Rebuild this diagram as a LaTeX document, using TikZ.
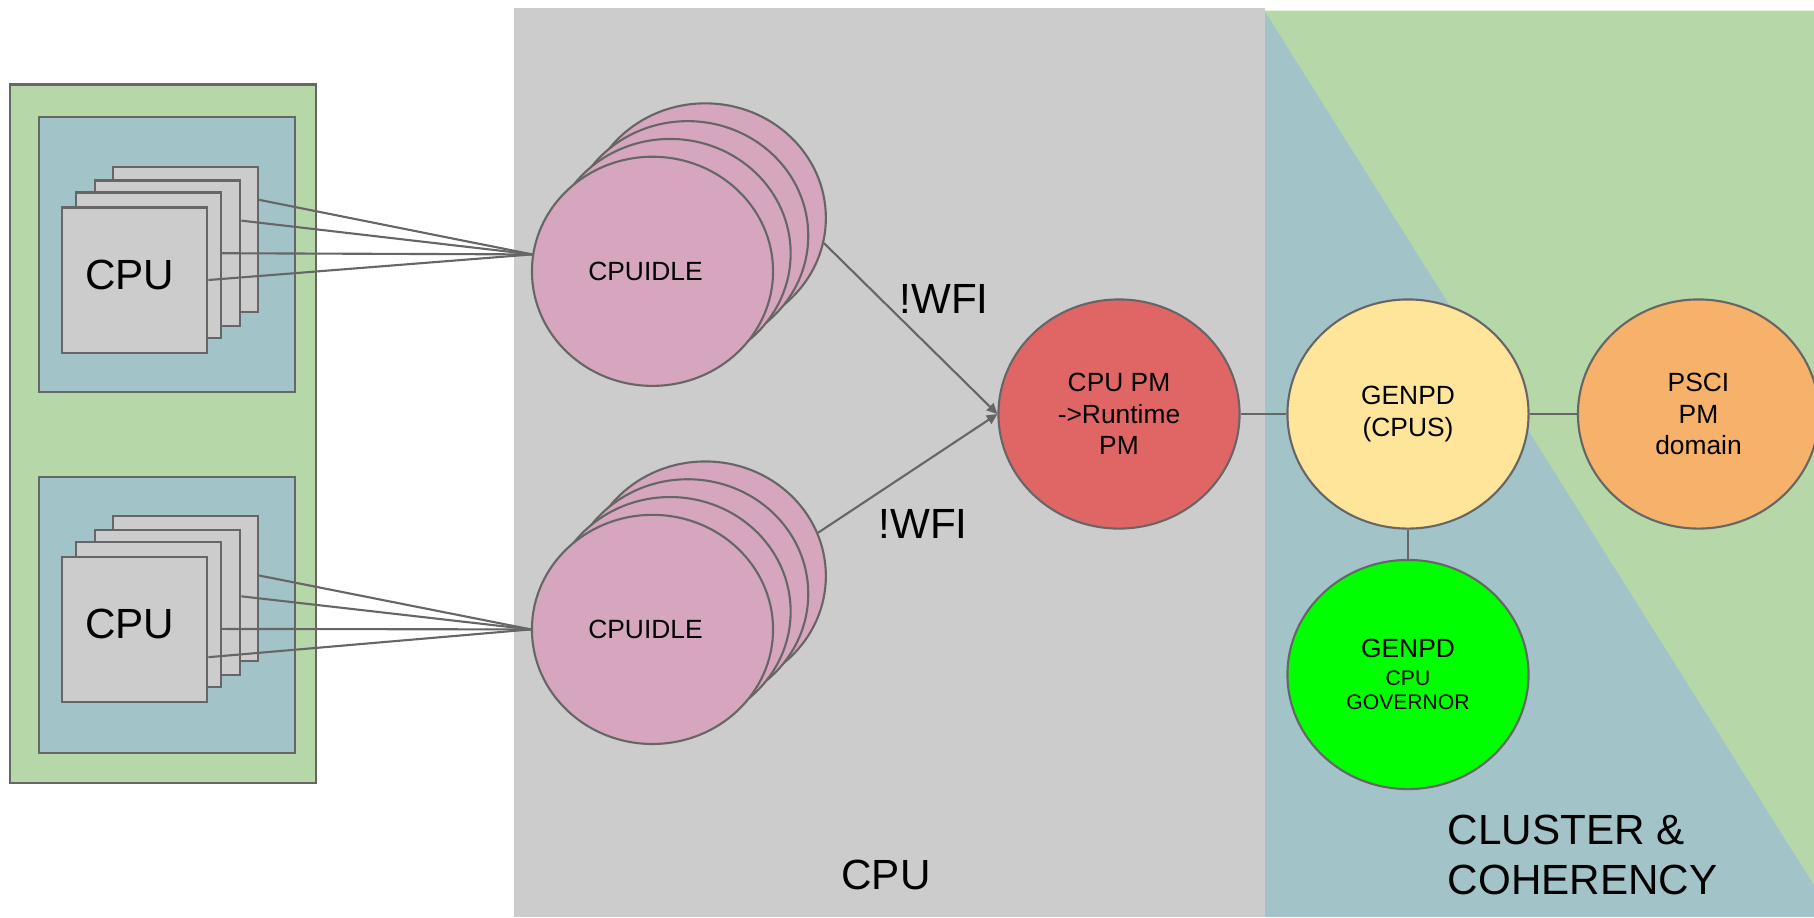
\documentclass[tikz,border=0pt]{standalone}
\usepackage{fontspec}
\setmainfont{Liberation Sans}
\usepackage{xcolor}
\usepackage{tikz}
\usetikzlibrary{shapes,arrows.meta,positioning,calc}
\definecolor{outergreen}{HTML}{B6D7A8}
\definecolor{clusterblue}{HTML}{A2C4C9}
\definecolor{boxgray}{HTML}{CCCCCC}
\definecolor{linegray}{HTML}{666666}
\definecolor{idlepink}{HTML}{D5A6BD}
\definecolor{pmred}{HTML}{E06666}
\definecolor{genpdyellow}{HTML}{FFE599}
\definecolor{psciorange}{HTML}{F6B26B}
\definecolor{governgreen}{HTML}{00FF00}
\newcommand{\bigtxt}{\fontsize{12}{14.4}\selectfont}
\newcommand{\midtxt}{\fontsize{7.5}{9}\selectfont}
\newcommand{\smalltxt}{\fontsize{6}{7}\selectfont}

\begin{document}
\begin{tikzpicture}[x=0.01cm, y=-0.01cm,
    frame/.style={draw=linegray, line width=0.6pt},
    cpubox/.style={rectangle, frame, fill=boxgray, minimum size=1.45cm, inner sep=0pt},
    idle/.style={ellipse, frame, fill=idlepink, minimum width=2.41cm, minimum height=2.29cm, inner sep=0pt, align=center, font=\midtxt},
    pmnode/.style={idle},
    link/.style={line width=0.6pt, linegray},
    flow/.style={link, -{Triangle[length=3pt, width=2.8pt]}},
    biglabel/.style={font=\bigtxt, inner sep=0pt},
    midlabel/.style={font=\midtxt, inner sep=0pt}
  ]
    \useasboundingbox (0,0) rectangle (1814,917);
    \clip (0,0) rectangle (1814,917);

    % Background regions
    \fill[boxgray] (513.7,8) rectangle (1264.5,917);
    \fill[clusterblue] (1264.5,10.5) rectangle (1814,917);
    \fill[outergreen] (1264.5,10.5) -- (1814,10.5) -- (1814,885) -- cycle;

    % Cluster boxes on the left
    \draw[frame, fill=outergreen] (10.4,84.5) rectangle (315.8,783);
    \draw[frame, fill=clusterblue] (39.3,117) rectangle (295,392.3);
    \draw[frame, fill=clusterblue] (39.3,477) rectangle (295,752.7);

    % CPU stacks
    \foreach \g/\y in {A/280, B/629.2} {
      \foreach \i/\dx/\dy in {4/50.5/40.5, 3/33/27, 2/13.5/15, 1/0/0}
        \node[cpubox] (cpu\g\i) at ({134.8+\dx}, {\y-\dy}) {};
      \node[biglabel] (cputxt\g) at ([shift={(-5,-5)}]cpu\g1.center) {CPU};
    }

    % CPUIDLE stacks
    \foreach \g/\y in {A/271.3, B/629.4} {
      \foreach \i in {4,3,2,1}
        \node[idle] (idle\g\i) at ({652.5+17.6*(\i-1)}, {\y-17.8*(\i-1)}) {};
      \node[midlabel] (idletxt\g) at ([shift={(-7,0)}]idle\g1.center) {CPUIDLE};
    }

    % CPUs to CPUIDLE
    \foreach \i/\f in {4/0.23, 3/0.28, 2/0.42, 1/0.5}
      \draw[link] ($(cpuA\i.north east)!\f!(cpuA\i.south east)$) -- (idleA1.172);
    \foreach \i/\f in {4/0.41, 3/0.46, 2/0.6, 1/0.69}
      \draw[link] ($(cpuB\i.north east)!\f!(cpuB\i.south east)$) -- (idleB1.west);

    % PM domains
    \node[pmnode, fill=pmred] (cpupm) at (1119,414) {CPU PM\\->Runtime\\PM};
    \node[pmnode, fill=genpdyellow] (genpd) at (1408,414) {GENPD\\(CPUS)};
    \node[pmnode, fill=psciorange] (psci) at (1698.5,414) {PSCI\\PM\\domain};
    \node[pmnode, fill=governgreen] (govern) at (1408,674.5) {GENPD\\[-1pt]{\smalltxt CPU}\\[-2pt]{\smalltxt GOVERNOR}};

    \draw[flow] (idleA4.-12) -- (cpupm.west);
    \draw[flow] (idleB4.21) -- (cpupm.west);
    \draw[link] (cpupm) -- (genpd);
    \draw[link] (genpd) -- (psci);
    \draw[link] (genpd) -- (govern);

    % Labels
    \node[biglabel] (wfiA) at (944,298.5) {!WFI};
    \node[biglabel] (wfiB) at (923,524) {!WFI};
    \node[biglabel] (cpuzone) at (886,875) {CPU};
    \node[biglabel, align=left, anchor=west] (clusterzone) at (1447,855) {CLUSTER \&\\COHERENCY};
  \end{tikzpicture}
\end{document}
